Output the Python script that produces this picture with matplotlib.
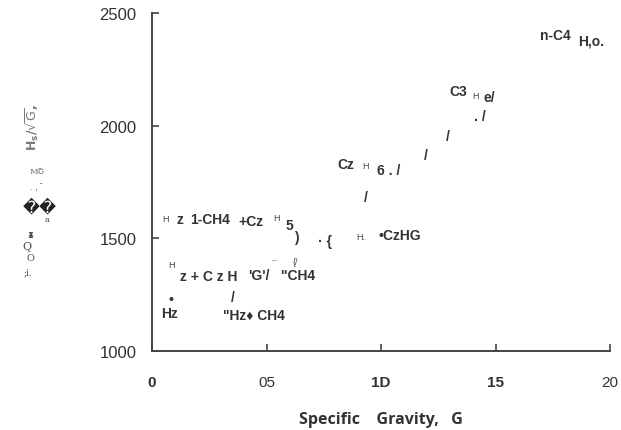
import matplotlib.pyplot as plt

# Datos del grafico (escaneado): ejes y etiquetas tal como aparecen
ticks_g = [0, 0.5, 1.0, 1.5, 2.0]
etiquetas_g = ["0", "05", "1D", "15", "20"]
ticks_h = [1000, 1500, 2000, 2500]
etiquetas_h = ["1000", "1500", "2000", "2500"]

# Anotaciones grandes (texto, G, H)
textos = ["n-C4", "H,o.", "C3", "e/", ". /", "/", "/", "Cz", "6 . /", "/",
          "z", "1-CH4", "+Cz", "5", ")", "· {", "•CzHG",
          "z + C z H", "'G'/", "\"CH4", "•", "Hz", "/", "\"Hz♦ CH4"]
textos_g = [1.693, 1.86, 1.297, 1.446, 1.406, 1.284, 1.188, 0.808, 0.983, 0.926,
            0.105, 0.166, 0.376, 0.585, 0.62, 0.725, 0.99,
            0.122, 0.419, 0.563, 0.07, 0.04, 0.345, 0.31]
textos_h = [2402, 2376, 2154, 2127, 2043, 1954, 1870, 1830, 1803, 1683,
            1588, 1588, 1577, 1559, 1506, 1488, 1515,
            1333, 1337, 1337, 1231, 1169, 1240, 1160]

# Subindices pequenos (H)
subs = ["H", "H", "H", "H", "H.", "H", "{/", "¯"]
subs_g = [1.398, 0.917, 0.045, 0.531, 0.894, 0.07, 0.615, 0.52]
subs_h = [2136, 1825, 1586, 1592, 1506, 1382, 1395, 1388]

fig = plt.figure(figsize=(6.21, 4.31), dpi=100)
ax = fig.add_axes([0.2448, 0.1833, 0.7375, 0.7842])
ax.set_xlim(0, 2.0)
ax.set_ylim(1000, 2500)

for lado in ["top", "right"]:
    ax.spines[lado].set_visible(False)
for lado in ["left", "bottom"]:
    ax.spines[lado].set_color("#444444")
    ax.spines[lado].set_linewidth(1.4)

ax.set_xticks(ticks_g)
ax.set_xticklabels(etiquetas_g, fontfamily="Liberation Sans", fontsize=11, color="#333333")
ax.set_yticks(ticks_h)
ax.set_yticklabels(etiquetas_h, fontfamily="Liberation Sans", fontsize=12, color="#333333")
ax.tick_params(axis="x", direction="in", length=5, width=1.2, color="#444444", pad=17)
ax.tick_params(axis="y", direction="in", length=5, width=1.2, color="#444444", pad=11)
for i in [0, 2, 3]:
    ax.get_xticklabels()[i].set_fontweight("bold")

for t, g, h in zip(textos, textos_g, textos_h):
    ax.text(g, h, t, fontsize=10, fontweight="bold", color="#333333",
            fontfamily="Liberation Sans", va="center", ha="left")
for t, g, h in zip(subs, subs_g, subs_h):
    ax.text(g, h, t, fontsize=6.5, color="#444444",
            fontfamily="Liberation Sans", va="center", ha="left")

ax.set_xlabel("Specific    Gravity,   G", fontsize=11.5, fontweight="bold",
              fontfamily="Open Sans", color="#333333", labelpad=16)

# Etiqueta del eje Y (con restos del escaneo)
fig.text(32 / 621, 1 - 128 / 431, r"H$_{\mathbf{s}}$/$\sqrt{\mathrm{G}}$,", rotation=90,
         fontsize=9, fontweight="bold", color="#777777", ha="center", va="center")
fig.text(37 / 621, 1 - 172 / 431, "MՇ", fontsize=6, fontfamily="DejaVu Serif", color="#666666", ha="center", va="center")
fig.text(37 / 621, 1 - 188 / 431, ". ,  ̄", fontsize=6, color="#666666", ha="center", va="center")
fig.text(40 / 621, 1 - 207 / 431, "\ufffd\ufffd", fontsize=12, color="#222222", ha="center", va="center")
fig.text(47 / 621, 1 - 220 / 431, "a", fontsize=6, fontfamily="DejaVu Serif", color="#444444", ha="center", va="center")
fig.text(30 / 621, 1 - 235 / 431, "ᵻ", fontsize=8, fontweight="bold", color="#555555", ha="center", va="center")
fig.text(27 / 621, 1 - 247 / 431, "Q", fontsize=8, fontfamily="DejaVu Serif", color="#444444", ha="center", va="center")
fig.text(30 / 621, 1 - 259 / 431, "O", fontsize=7, fontfamily="DejaVu Serif", color="#444444", ha="center", va="center")
fig.text(28 / 621, 1 - 273 / 431, ";i.", fontsize=6.5, fontfamily="DejaVu Serif", color="#444444", ha="center", va="center")

plt.savefig("out.png", dpi=100)
plt.close()
